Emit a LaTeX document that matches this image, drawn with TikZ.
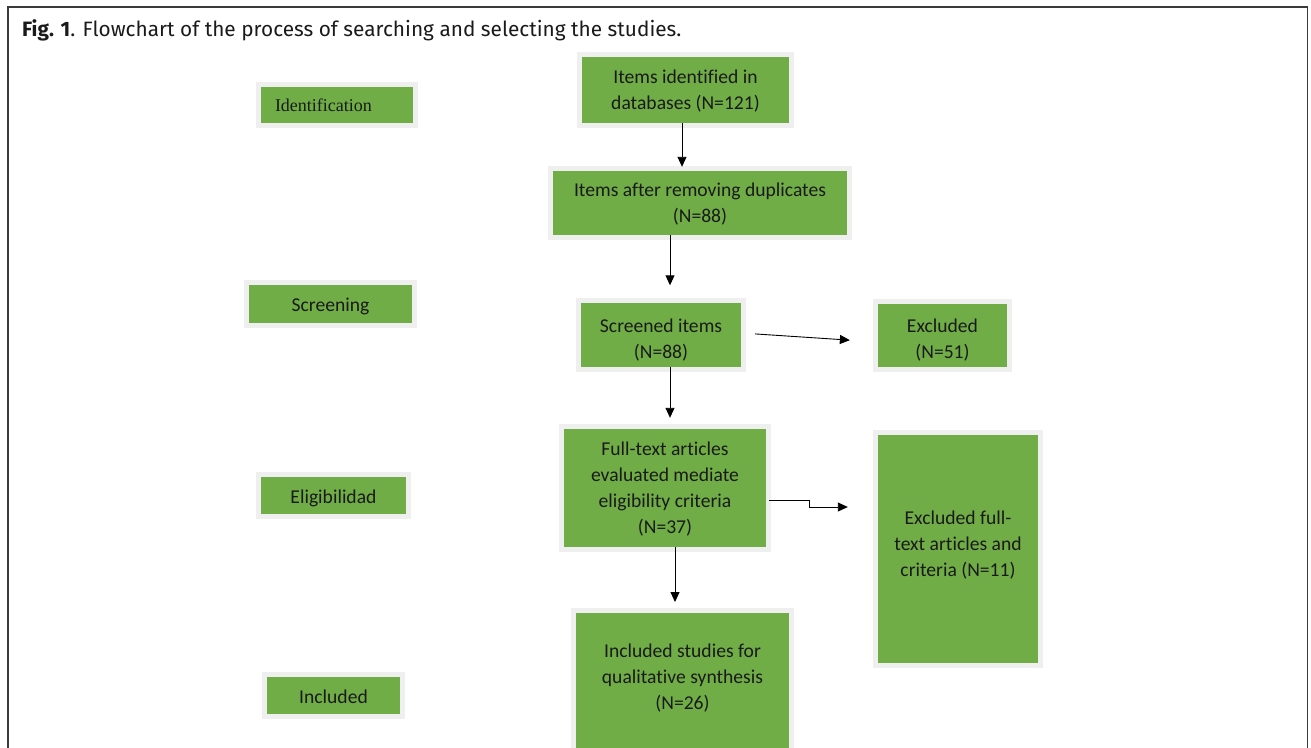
\documentclass[tikz,border=0pt]{standalone}
\usepackage{fontspec}
\setmainfont{Carlito}[Ligatures=NoCommon]
\newfontfamily\serifface{Liberation Serif}
\newfontfamily\captionface{Fira Sans}
\usetikzlibrary{arrows.meta}
\definecolor{boxgreen}{HTML}{70AD47}
\definecolor{boxedge}{HTML}{EFEFEF}
\definecolor{framegray}{HTML}{3A3A3A}
\definecolor{inkblack}{HTML}{1A1A1A}

% centred lines of box text; the first argument adds room above (moves text down),
% \padbelow adds room below (moves text up)
\newcommand\padabove[2]{\raisebox{0pt}[\dimexpr\height+#1\relax][\depth]{\begin{tabular}{@{}c@{}}#2\end{tabular}}}
\newcommand\padbelow[2]{\raisebox{0pt}[\height][\dimexpr\depth+#1\relax]{\begin{tabular}{@{}c@{}}#2\end{tabular}}}

\begin{document}
\begin{tikzpicture}[x=1pt,y=-1pt,
  box/.style={fill=boxgreen, preaction={draw=boxedge, line width=10pt},
    inner sep=0pt, align=center, text=inkblack,
    font=\fontsize{19.6}{26}\selectfont},
  stage/.style={box},
  link/.style={draw=black, line width=0.9pt, -{Triangle[length=10pt,width=9pt]}}]

\useasboundingbox (0,0) rectangle (1311,747);

% outer frame of the figure (open at the bottom)
\draw[framegray, line width=1.5pt] (8,760) -- (8,7) -- (1307.5,7) -- (1307.5,760);

% caption
\node[anchor=base west, inner sep=0pt, text=inkblack,
  font=\captionface\fontsize{20.8}{24}\selectfont] (caption) at (22,36)
  {\textbf{Fig. 1}. Flowchart of the process of searching and selecting the studies.};

% stage labels
\node[stage, text width=124pt, inner xsep=14pt, align=left, minimum height=36pt,
  font=\serifface\fontsize{18}{22}\selectfont] (ident) at (337,105) {Identification};
\node[stage, minimum width=163pt, minimum height=38pt] (screen) at (330.5,304) {\padabove{4pt}{Screening}};
\node[stage, minimum width=145pt, minimum height=37pt] (elig) at (333.5,495.5) {\padabove{5pt}{Eligibilidad}};
\node[stage, minimum width=133pt, minimum height=37pt] (incl) at (333.5,695.5) {\padabove{5pt}{Included}};

% flow boxes
\node[box, minimum width=207pt, minimum height=66pt] (found) at (685.5,90)
  {\padabove{3pt}{Items identified in\\databases (N=121)}};
\node[box, minimum width=294pt, minimum height=64pt] (dedup) at (700,203)
  {\padabove{3pt}{Items after removing duplicates\\(N=88)}};
\node[box, minimum width=160pt, minimum height=57pt] (screened) at (661,334.5)
  {\padabove{12pt}{Screened items\\(N=88)}};
\node[box, minimum width=129pt, minimum height=56pt] (excl) at (942.5,335)
  {\padabove{11pt}{Excluded\\(N=51)}};
\node[box, minimum width=202pt, minimum height=118pt] (fulltext) at (665,488)
  {\padabove{2pt}{Full-text articles\\evaluated mediate\\eligibility criteria\\(N=37)}};
\node[box, minimum width=160pt, minimum height=228pt] (exclfull) at (958,549)
  {\padbelow{8pt}{Excluded full-\\text articles and\\criteria (N=11)}};
\node[box, anchor=north, minimum width=213pt, text height=44pt, text depth=103pt]
  (studies) at (682.5,613)
  {\begin{tabular}[t]{@{}c@{}}Included studies for\\qualitative synthesis\\(N=26)\end{tabular}};

% connectors
\draw[link, shorten >=4pt] ([xshift=-3.5pt]found.south) -- ([xshift=-18pt]dedup.north);
\draw[link, shorten >=17pt] ([xshift=-30pt]dedup.south) -- ([xshift=9pt]screened.north);
\draw[link, shorten <=14pt, shorten >=28pt] ([yshift=1.5pt]screened.east) -- ([yshift=-7pt]excl.west);
\draw[link, shorten >=11pt] ([xshift=9pt]screened.south) -- ([xshift=5pt]fulltext.north);
\draw[link, shorten >=30pt] ([xshift=3pt,yshift=-12pt]fulltext.east) -- ++(40,0)
  |- ([yshift=42pt]exclfull.west);
\draw[link, shorten >=11pt] ([xshift=10pt]fulltext.south) -- ([xshift=-7.5pt]studies.north);
\end{tikzpicture}
\end{document}
